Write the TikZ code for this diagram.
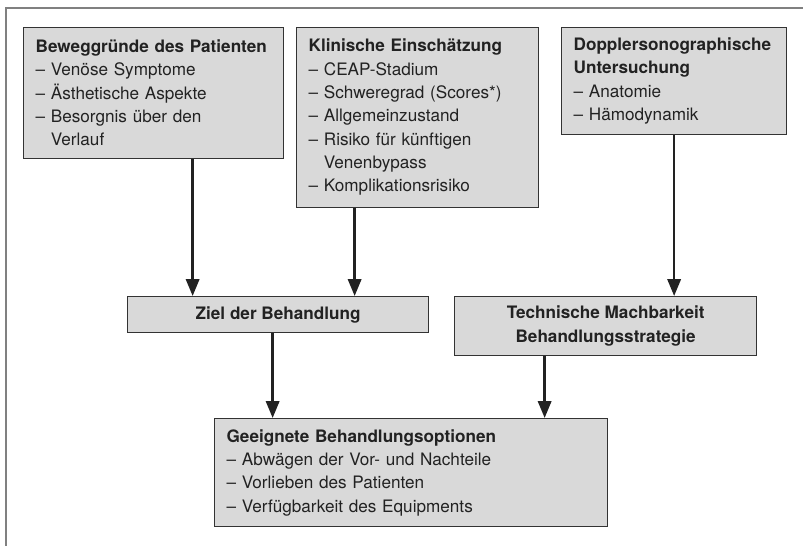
\documentclass[tikz,border=0pt]{standalone}
\usepackage{fontspec}
\setmainfont{TeX Gyre Heros}
\usetikzlibrary{positioning}
\usetikzlibrary{arrows.meta}
\usetikzlibrary{calc}
\definecolor{boxgray}{HTML}{D9D9D9}
\definecolor{edgegray}{HTML}{333333}
\definecolor{framegray}{HTML}{808080}
\definecolor{txt}{HTML}{222222}
\newcommand{\contd}{\phantom{– }}
\tikzset{>={Triangle[length=4.2mm,width=3.3mm]}}
\tikzset{box/.style={draw=edgegray, line width=0.9pt, fill=boxgray, text=txt, anchor=north west, inner xsep=0.3cm, inner ysep=0pt, align=left, font=\fontsize{12.2}{16.6}\selectfont}}
\tikzset{mid/.style={box, align=center, font=\fontsize{12.2}{16.6}\selectfont\bfseries}}
\tikzset{arr/.style={->, line width=1.8pt, draw=txt}}

\begin{document}
\begin{tikzpicture}
\useasboundingbox (0,0) rectangle (20.075,-13.65);

%%% Frame:
\draw[framegray, line width=1.5pt] (20.075,-0.2) -- (0.15,-0.2) -- (0.15,-13.65);

%%% Top row:

\node[box, text width=5.9cm, minimum height=3.29cm] (motiv) at (0.575,-0.6625)
 {\textbf{Beweggründe des Patienten}\\
  – Venöse Symptome\\
  – Ästhetische Aspekte\\
  – Besorgnis über den\\
  \contd Verlauf};

\node[box, text width=5.45cm, minimum height=4.5125cm] (klinik) at (7.4,-0.6625)
 {\textbf{Klinische Einschätzung}\\
  – CEAP-Stadium\\
  – Schweregrad (Scores*)\\
  – Allgemeinzustand\\
  – Risiko für künftigen\\
  \contd Venenbypass\\
  – Komplikationsrisiko};

\node[box, text width=5.025cm, minimum height=2.6875cm] (doppler) at (14.025,-0.6625)
 {\textbf{Dopplersonographische}\\
  \textbf{Untersuchung}\\
  – Anatomie\\
  – Hämodynamik};

%%% Middle row:

\node[mid, minimum width=7.525cm, minimum height=0.9cm] (ziel) at (3.175,-7.4)
 {Ziel der Behandlung};
\node[mid, minimum width=7.55cm, minimum height=1.475cm] (tech) at (11.35,-7.4)
 {Technische Machbarkeit\\ Behandlungsstrategie};

%%% Bottom:

\node[box, text width=9.225cm, minimum height=2.7cm] (option) at (5.35,-10.45)
 {\textbf{Geeignete Behandlungsoptionen}\\
  – Abwägen der Vor- und Nachteile\\
  – Vorlieben des Patienten\\
  – Verfügbarkeit des Equipments};

%%% Arrows:

\coordinate (m1) at ($(motiv.south)+(0.975,0)$);
\coordinate (k1) at ($(klinik.south)+(-1.575,0)$);
\coordinate (z1) at ($(ziel.south)+(-0.1375,0)$);
\coordinate (t1) at ($(tech.south)+(-1.525,0)$);

\draw[arr] (m1) -- (m1 |- ziel.north);
\draw[arr] (k1) -- (k1 |- ziel.north);
\draw[arr] (doppler.south) -- (doppler.south |- tech.north);
\draw[arr] (z1) -- (z1 |- option.north);
\draw[arr] (t1) -- (t1 |- option.north);

\end{tikzpicture}
\end{document}
